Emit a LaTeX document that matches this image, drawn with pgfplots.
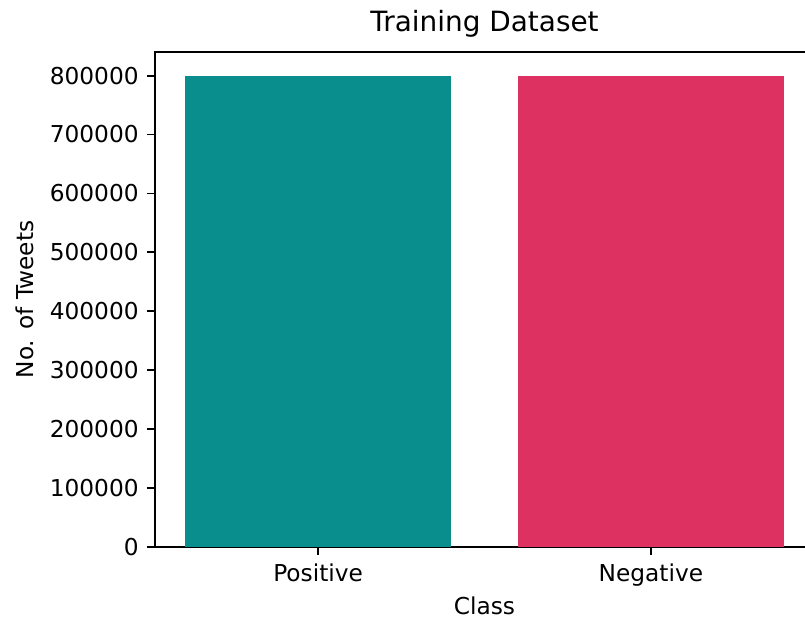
\documentclass[border=0pt]{standalone}
\usepackage{pgfplots}
\pgfplotsset{compat=1.18}
\usepackage{fontspec}
\setmainfont{DejaVu Sans}
\definecolor{tealbar}{RGB}{10,141,141}
\definecolor{redbar}{RGB}{221,50,97}
\begin{document}
\begin{tikzpicture}
\begin{axis}[
  at={(66.65pt,30.53pt)}, anchor=south west,
  scale only axis,
  width=283.37pt, height=212.85pt,
  xmin=-0.49, xmax=1.49,
  ymin=0, ymax=840000,
  xtick={0,1}, xticklabels={Positive,Negative},
  ytick={0,100000,...,800000},
  scaled y ticks=false,
  /pgf/number format/.cd, fixed, set thousands separator={}, assume math mode=true,
  /pgfplots/.cd,
  tick align=outside,
  major tick length=3.5pt,
  tick style={black, line width=0.8pt},
  axis line style={line width=0.8pt},
  tick label style={font=\fontsize{10}{12}\selectfont},
  label style={font=\fontsize{10}{12}\selectfont},
  xlabel style={yshift=2pt},
  title style={font=\fontsize{12}{14}\selectfont, yshift=-3pt},
  title={Training Dataset},
  xlabel={Class}, ylabel={No. of Tweets},
  ybar, bar width=0.8, bar shift=0pt,
  xtick pos=bottom, ytick pos=left,
]
\addplot[fill=tealbar, draw=none, bar shift=0pt] coordinates {(0,800000)};
\addplot[fill=redbar, draw=none, bar shift=0pt] coordinates {(1,800000)};
\end{axis}
\pgfresetboundingbox
\useasboundingbox (0,0) rectangle (346.15pt,265.74pt);
\end{tikzpicture}
\end{document}
